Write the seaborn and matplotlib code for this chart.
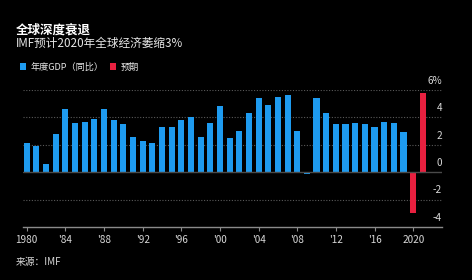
import matplotlib
matplotlib.use("Agg")
import matplotlib.pyplot as plt
import matplotlib.transforms as mtransforms
import seaborn as sns
import pandas as pd

# data (world GDP growth, %)
years = list(range(1980, 2022))
growth = [2.1, 1.9, 0.6, 2.8, 4.6, 3.6, 3.7, 3.9, 4.6, 3.8,
          3.5, 2.6, 2.3, 2.1, 3.3, 3.3, 3.8, 4.0, 2.6, 3.6,
          4.8, 2.5, 3.0, 4.3, 5.4, 4.9, 5.5, 5.6, 3.0, -0.1,
          5.4, 4.3, 3.5, 3.5, 3.6, 3.5, 3.3, 3.7, 3.6, 2.9,
          -3.0, 5.8]
kinds = ['年度GDP（同比）'] * 40 + ['预期'] * 2
xtick_labels = ['1980', "'84", "'88", "'92", "'96", "'00", "'04", "'08", "'12", "'16", '2020']
ytick_vals = [6, 4, 2, 0, -2, -4]
ytick_labels = ['6%', '4', '2', '0', '-2', '-4']

df = pd.DataFrame({'year': [str(y) for y in years], 'growth': growth, 'kind': kinds})

sns.set_theme(style='dark', rc={
    'figure.facecolor': 'black', 'axes.facecolor': 'black',
    'axes.edgecolor': '#8a8a8a', 'text.color': '#e6e6e6',
    'xtick.color': '#8a8a8a', 'ytick.color': '#cfcfcf',
})
plt.rcParams['font.family'] = ['Noto Sans CJK SC', 'DejaVu Sans']

fig = plt.figure(figsize=(4.72, 2.8), dpi=100)
ax = fig.add_axes([23 / 472, 1 - 227 / 280, (442 - 23) / 472, (227 - 90) / 280])

sns.barplot(data=df, x='year', y='growth', hue='kind', order=df['year'],
            hue_order=['年度GDP（同比）', '预期'],
            palette={'年度GDP（同比）': '#1e9bf0', '预期': '#e8203f'},
            dodge=False, width=0.65, saturation=1, linewidth=0, edgecolor='none', ax=ax)

ax.set_ylim(-4, 6)
ax.set_xlim(-0.38, 42.97)
ax.set_xlabel('')
ax.set_ylabel('')

# grid
for v in [6, 4, 2, -2]:
    ax.axhline(v, color='#5a5a5a', lw=0.8, ls=(0, (1, 1.5)), zorder=0)
ax.axhline(0, color='#4a4a4a', lw=1.0, zorder=3)
ax.grid(False)

for s in ['top', 'right', 'left']:
    ax.spines[s].set_visible(False)
ax.spines['bottom'].set_color('#8a8a8a')
ax.spines['bottom'].set_linewidth(1)

ax.set_xticks(range(0, 41, 4))
ax.set_xticklabels(xtick_labels, fontsize=7.2, color='#d8d8d8')
ax.tick_params(axis='x', length=3, width=0.8, pad=2.5, bottom=True)
ax.set_yticks([])

# y labels above the grid lines on the right
off = mtransforms.ScaledTranslation(0, 3.0 / 72, fig.dpi_scale_trans)
for v, lab in zip(ytick_vals, ytick_labels):
    ax.text(1.0, v, lab, transform=ax.get_yaxis_transform() + off,
            ha='right', va='bottom', fontsize=7.2, color='#d8d8d8')

sns.move_legend(ax, loc='center left', bbox_to_anchor=(0.024, 0.761),
                bbox_transform=fig.transFigure, ncol=2, frameon=False, title=None,
                fontsize=6.6, handlelength=0.75, handleheight=0.75, handletextpad=0.5,
                columnspacing=0.6, labelcolor='#e6e6e6')

fig.text(16 / 472, 1 - 30 / 280, '全球深度衰退', fontsize=9, fontweight='bold',
         color='white', va='center', ha='left')
fig.text(16 / 472, 1 - 43.5 / 280, 'IMF预计2020年全球经济萎缩3%', fontsize=8.4,
         color='#e6e6e6', va='center', ha='left')
fig.text(16 / 472, 1 - 262 / 280, '来源：IMF', fontsize=7, color='#d8d8d8',
         va='center', ha='left')

fig.savefig('out.png', dpi=100, facecolor='black')
